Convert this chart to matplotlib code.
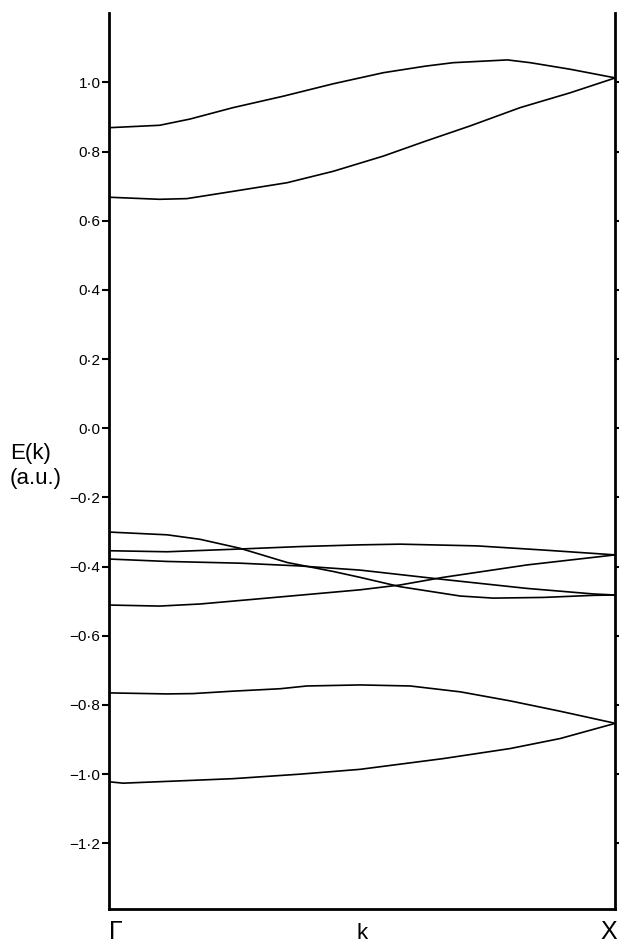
import matplotlib
matplotlib.use('Agg')
import matplotlib.pyplot as plt

plt.rcParams['font.family'] = ['Liberation Sans', 'DejaVu Sans']

# band energies, k as a fraction of Gamma -> X
k_top = [0, 0.10, 0.16, 0.245, 0.344, 0.443, 0.542, 0.625, 0.68, 0.787, 0.832, 0.911, 1.0]
e_top = [0.869, 0.876, 0.894, 0.927, 0.960, 0.996, 1.028, 1.047, 1.057, 1.065, 1.057, 1.038, 1.013]

k_second = [0, 0.10, 0.154, 0.245, 0.352, 0.443, 0.542, 0.625, 0.713, 0.812, 0.911, 1.0]
e_second = [0.668, 0.662, 0.664, 0.685, 0.710, 0.743, 0.787, 0.830, 0.874, 0.927, 0.970, 1.013]

k_a = [0, 0.115, 0.18, 0.259, 0.352, 0.443, 0.496, 0.575, 0.694, 0.759, 0.858, 0.957, 1.0]
e_a = [-0.300, -0.308, -0.321, -0.347, -0.388, -0.414, -0.431, -0.458, -0.485, -0.491, -0.489, -0.483, -0.482]

k_b = [0, 0.115, 0.259, 0.377, 0.496, 0.575, 0.727, 0.858, 1.0]
e_b = [-0.354, -0.357, -0.349, -0.342, -0.337, -0.335, -0.340, -0.352, -0.366]

k_c = [0, 0.115, 0.259, 0.377, 0.496, 0.660, 0.826, 0.957, 1.0]
e_c = [-0.378, -0.385, -0.390, -0.398, -0.410, -0.437, -0.463, -0.479, -0.482]

k_d = [0, 0.10, 0.18, 0.312, 0.496, 0.575, 0.660, 0.826, 1.0]
e_d = [-0.511, -0.514, -0.508, -0.491, -0.467, -0.453, -0.431, -0.395, -0.366]

k_e = [0, 0.115, 0.166, 0.245, 0.338, 0.391, 0.496, 0.595, 0.694, 0.792, 0.891, 1.0]
e_e = [-0.765, -0.768, -0.767, -0.760, -0.753, -0.745, -0.742, -0.745, -0.762, -0.788, -0.818, -0.853]

k_f = [0, 0.028, 0.146, 0.245, 0.377, 0.496, 0.660, 0.792, 0.891, 1.0]
e_f = [-1.022, -1.026, -1.019, -1.013, -1.000, -0.986, -0.955, -0.926, -0.897, -0.853]

bands = [(k_top, e_top), (k_second, e_second), (k_a, e_a), (k_b, e_b),
         (k_c, e_c), (k_d, e_d), (k_e, e_e), (k_f, e_f)]

yticks = [1.0, 0.8, 0.6, 0.4, 0.2, 0.0, -0.2, -0.4, -0.6, -0.8, -1.0, -1.2]
ytick_labels = ['1·0', '0·8', '0·6', '0·4', '0·2', '0·0',
                '−0·2', '−0·4', '−0·6', '−0·8', '−1·0', '−1·2']

fig = plt.figure(figsize=(6.19, 9.44), dpi=100)
ax = fig.add_axes([0.176, 0.037, 0.818, 0.949])

for k, e in bands:
    ax.plot(k, e, color='black', linewidth=1.2)

ax.set_xlim(0, 1)
ax.set_ylim(-1.39, 1.20)

ax.spines['top'].set_visible(False)
for side in ['left', 'right', 'bottom']:
    ax.spines[side].set_linewidth(2)

ax.set_xticks([])
ax.set_yticks(yticks)
ax.set_yticklabels(ytick_labels, fontsize=11)
ax.tick_params(axis='y', direction='out', length=5, width=1.5, pad=1,
               right=True, labelright=False)
ax.tick_params(axis='y', which='major', right=True)

ax.text(0.0, -0.012, 'Γ', transform=ax.transAxes, ha='left', va='top', fontsize=18)
ax.text(1.003, -0.012, 'X', transform=ax.transAxes, ha='right', va='top', fontsize=18)
ax.text(0.5, -0.016, 'k', transform=ax.transAxes, ha='center', va='top', fontsize=16)

fig.text(10 / 619, 1 - 443 / 944, 'E(k)', ha='left', va='top', fontsize=16)
fig.text(10 / 619, 1 - 468 / 944, '(a.u.)', ha='left', va='top', fontsize=16)

fig.savefig('out.png', dpi=100)
